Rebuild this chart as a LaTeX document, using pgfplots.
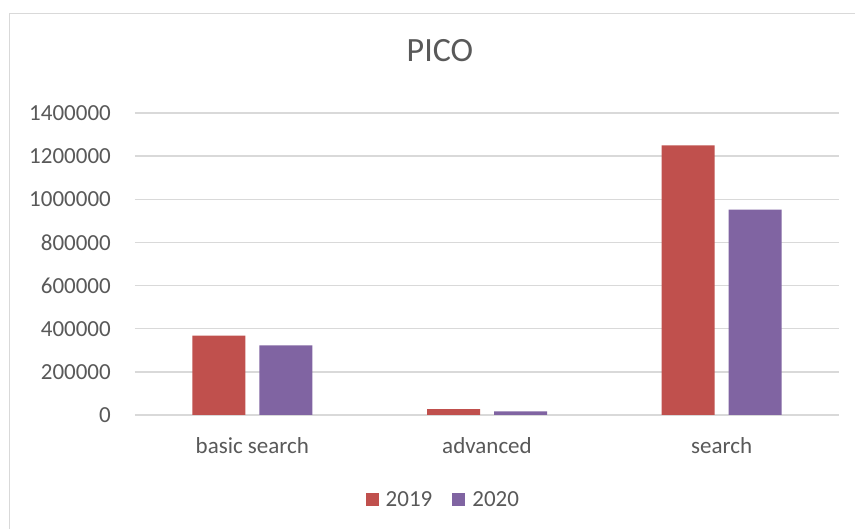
\documentclass[border=0pt]{standalone}
\usepackage{pgfplots}
\pgfplotsset{compat=1.18}
\usepackage{fontspec}
\setmainfont{Carlito}
\definecolor{c2019}{HTML}{C0504D}
\definecolor{c2020}{HTML}{8064A2}
\definecolor{gridc}{HTML}{D9D9D9}
\definecolor{txt}{HTML}{595959}
\begin{document}
\begin{tikzpicture}[x=1pt,y=1pt]
\useasboundingbox (0,0) rectangle (855,529);
\fill[white] (0,0) rectangle (855,529);
\draw[gridc, line width=1.3pt] (9.5,-50) -- (9.5,515.5) -- (900,515.5);
\begin{axis}[
  at={(135pt,114pt)}, anchor=south west,
  scale only axis, width=704pt, height=302pt,
  ybar=14pt, bar width=53pt,
  xmin=-0.5, xmax=2.5, ymin=0, ymax=1400000,
  xtick={0,1,2}, xticklabels={basic search, advanced, search},
  ytick={0,200000,400000,600000,800000,1000000,1200000,1400000},
  scaled y ticks=false,
  /pgf/number format/assume math mode=true,
  /pgf/number format/fixed,
  /pgf/number format/precision=0,
  /pgf/number format/1000 sep={},
  axis line style={draw=none}, major tick length=0,
  ymajorgrids, grid style={gridc, line width=1.3pt},
  tick label style={font=\fontsize{23}{27}\selectfont, text=txt},
  yticklabel style={anchor=east, inner sep=0pt, xshift=-24pt},
  xticklabel style={anchor=north, inner sep=0pt, yshift=-22pt},
  title={PICO},
  title style={at={(0.4332,1.149)}, anchor=base, font=\fontsize{34}{40}\selectfont, text=txt},
  legend style={at={(0.438,-0.281)}, anchor=center, draw=none, fill=none,
    legend columns=2, font=\fontsize{23}{27}\selectfont, text=txt,
    /tikz/every odd column/.append style={column sep=5pt},
    /tikz/every even column/.append style={column sep=18pt}},
  legend image code/.code={\fill[#1] (0pt,-6.5pt) rectangle (13pt,6.5pt);},
]
\addplot[fill=c2019, draw=none] coordinates {(0,368000) (1,27700) (2,1250000)};
\addplot[fill=c2020, draw=none] coordinates {(0,323000) (1,17000) (2,951500)};
\legend{2019,2020}
\end{axis}
\end{tikzpicture}
\end{document}
